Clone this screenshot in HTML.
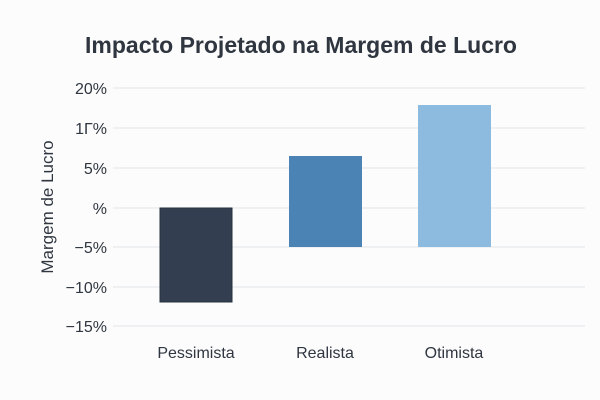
<!DOCTYPE html>
<html><head><style>body{margin:0;background:#fcfcfc;}svg{display:block;font-family:"Liberation Sans",sans-serif;}</style></head>
<body>
<svg width="600" height="400" xmlns="http://www.w3.org/2000/svg">
<rect width="600" height="400" fill="#fcfcfc"/>
<text x="301" y="53" text-anchor="middle" font-size="23" font-weight="bold" fill="#2f3640">Impacto Projetado na Margem de Lucro</text>
<g stroke="#e1e3e6" stroke-width="1">
<line x1="113" x2="585" y1="88" y2="88"/><line x1="113" x2="585" y1="128" y2="128"/>
<line x1="113" x2="585" y1="168" y2="168"/><line x1="113" x2="585" y1="208" y2="208"/>
<line x1="113" x2="585" y1="247" y2="247"/><line x1="113" x2="585" y1="287" y2="287"/>
<line x1="113" x2="585" y1="326" y2="326"/></g>
<g font-size="16" fill="#2f3640" text-anchor="end">
<text x="107" y="94">20%</text><text x="107" y="134">1Γ%</text><text x="107" y="174">5%</text>
<text x="107" y="214">%</text><text x="107" y="253">−5%</text><text x="107" y="293">−10%</text><text x="107" y="332">−15%</text></g>
<text transform="translate(53,207) rotate(-90)" text-anchor="middle" font-size="17" fill="#2f3640">Margem de Lucro</text>
<rect x="160" y="208" width="72" height="94" fill="#333f50" stroke="#26303d"/>
<rect x="289" y="156" width="73" height="91" fill="#4a83b4"/>
<rect x="418" y="105" width="73" height="142" fill="#8dbbe0"/>
<g font-size="16" fill="#2f3640" text-anchor="middle">
<text x="196" y="358">Pessimista</text><text x="325" y="358">Realista</text><text x="454" y="358">Otimista</text></g>
</svg>
</body></html>
